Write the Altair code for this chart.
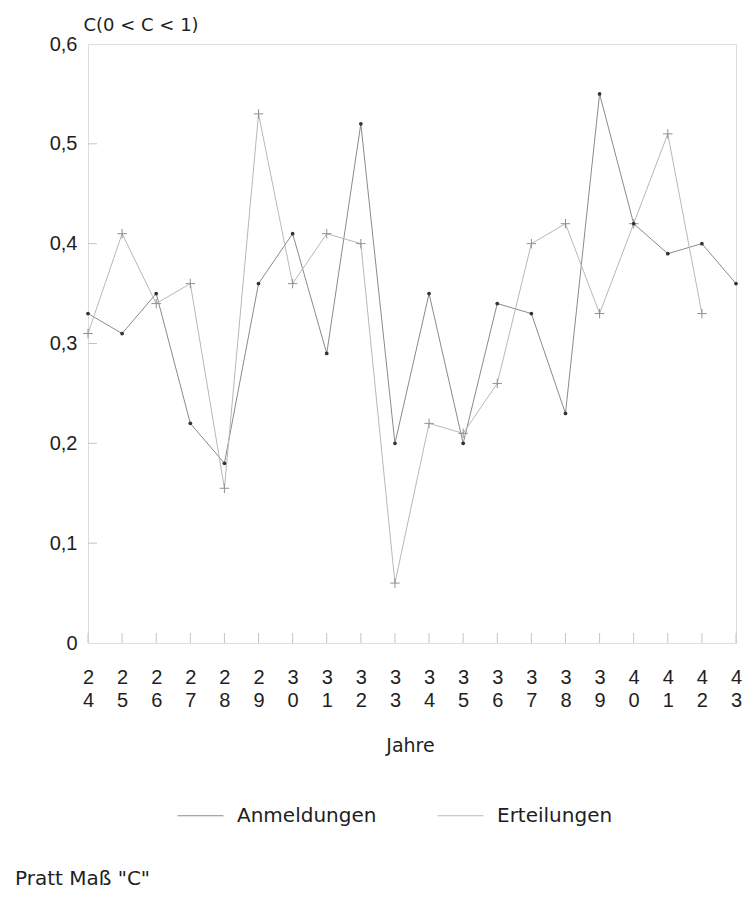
import altair as alt
import pandas as pd

years = [24, 25, 26, 27, 28, 29, 30, 31, 32, 33, 34, 35, 36, 37, 38, 39, 40, 41, 42, 43]
anmeldungen = [0.33, 0.31, 0.35, 0.22, 0.18, 0.36, 0.41, 0.29, 0.52, 0.20,
               0.35, 0.20, 0.34, 0.33, 0.23, 0.55, 0.42, 0.39, 0.40, 0.36]
erteilungen_years = [24, 25, 26, 27, 28, 29, 30, 31, 32, 33, 34, 35, 36, 37, 38, 39, 40, 41, 42]
erteilungen = [0.31, 0.41, 0.34, 0.36, 0.155, 0.53, 0.36, 0.41, 0.40, 0.06,
               0.22, 0.21, 0.26, 0.40, 0.42, 0.33, 0.42, 0.51, 0.33]
series_names = ["Anmeldungen", "Erteilungen"]
y_ticks = [0.0, 0.1, 0.2, 0.3, 0.4, 0.5, 0.6]
y_inner_ticks = [0.1, 0.2, 0.3, 0.4, 0.5]

df = pd.concat([
    pd.DataFrame({"Jahr": years, "C": anmeldungen, "Reihe": series_names[0]}),
    pd.DataFrame({"Jahr": erteilungen_years, "C": erteilungen, "Reihe": series_names[1]}),
], ignore_index=True)
df_xt = pd.DataFrame({"Jahr": years})
df_yt = pd.DataFrame({"C": y_inner_ticks})

W, H = 648, 599
TXT = "#1e1e1e"
FRAME = "#c4c4c4"

x_axis = alt.Axis(
    values=years,
    labelExpr="[substring(datum.label, 0, 1), substring(datum.label, 1, 2)]",
    labelFont="Liberation Sans", labelFontSize=20, labelColor=TXT,
    labelLineHeight=23, labelPadding=24, labelBaseline="top",
    labelOverlap=False, labelFlush=False, labelBound=False, labelSeparation=0,
    domain=False, ticks=False, tickSize=0, grid=False,
    title="Jahre", titleFont="DejaVu Sans", titleFontSize=19,
    titleFontWeight="normal", titleColor=TXT,
    titleBaseline="alphabetic", titleY=108, titleX=W / 2 - 2,
)
y_axis = alt.Axis(
    values=y_ticks,
    labelExpr="datum.value == 0 ? '0' : replace(format(datum.value, '.1f'), '.', ',')",
    labelFont="Liberation Sans", labelFontSize=20, labelColor=TXT,
    labelPadding=11, labelFlush=False, labelOverlap=False,
    domain=False, ticks=False, tickSize=0, grid=False,
    title="C(0 < C < 1)", titleFont="DejaVu Sans", titleFontSize=18,
    titleFontWeight="normal", titleColor=TXT, titleAngle=0,
    titleAlign="left", titleBaseline="alphabetic", titleX=-5, titleY=-14,
)
x_scale = alt.Scale(domain=[24, 43], nice=False, zero=False)
y_scale = alt.Scale(domain=[0, 0.6], nice=False)
x_enc = alt.X("Jahr:Q", scale=x_scale, axis=x_axis)
y_enc = alt.Y("C:Q", scale=y_scale, axis=y_axis)

base = alt.Chart(df)

lines = base.mark_line(strokeWidth=1).encode(
    x=x_enc,
    y=y_enc,
    color=alt.Color(
        "Reihe:N",
        scale=alt.Scale(domain=series_names, range=["#8a8a8a", "#b8b8b8"]),
        legend=alt.Legend(
            orient="none", legendX=89, legendY=748, direction="horizontal",
            title=None, symbolType="stroke", symbolSize=2116, symbolStrokeWidth=1,
            labelFont="DejaVu Sans", labelFontSize=20, labelColor=TXT,
            labelOffset=13, columnPadding=58,
        ),
    ),
)

pts_a = base.transform_filter(alt.datum.Reihe == series_names[0]).mark_point(
    shape="circle", filled=True, size=14, color="#333333", opacity=1
).encode(x=x_enc, y=y_enc)

pts_e = base.transform_filter(alt.datum.Reihe == series_names[1]).mark_point(
    shape="M-1,0L1,0M0,-1L0,1", filled=False, size=90, color="#909090",
    strokeWidth=1, opacity=1
).encode(x=x_enc, y=y_enc)

xticks = alt.Chart(df_xt).mark_rule(color=FRAME, strokeWidth=1).encode(
    x=x_enc, y=alt.value(H), y2=alt.value(H - 10)
)
yticks = alt.Chart(df_yt).mark_rule(color=FRAME, strokeWidth=1).encode(
    y=y_enc, x=alt.value(0), x2=alt.value(9)
)

chart = alt.layer(lines, pts_e, pts_a, xticks, yticks).properties(
    width=W,
    height=H,
    autosize=alt.AutoSizeParams(type="none"),
    padding={"left": 80, "top": 36, "right": 7, "bottom": 248},
    title=alt.TitleParams(
        'Pratt Maß "C"', orient="bottom", anchor="start", frame="group",
        dx=-73, dy=43, offset=0, font="DejaVu Sans", fontSize=20,
        fontWeight="normal", color=TXT,
    ),
).configure_view(stroke=FRAME, strokeWidth=1).configure_axisX(
    labelOverlap=False
).configure(background="white")

chart.save("out.html", embed_options={"renderer": "svg", "actions": False})
